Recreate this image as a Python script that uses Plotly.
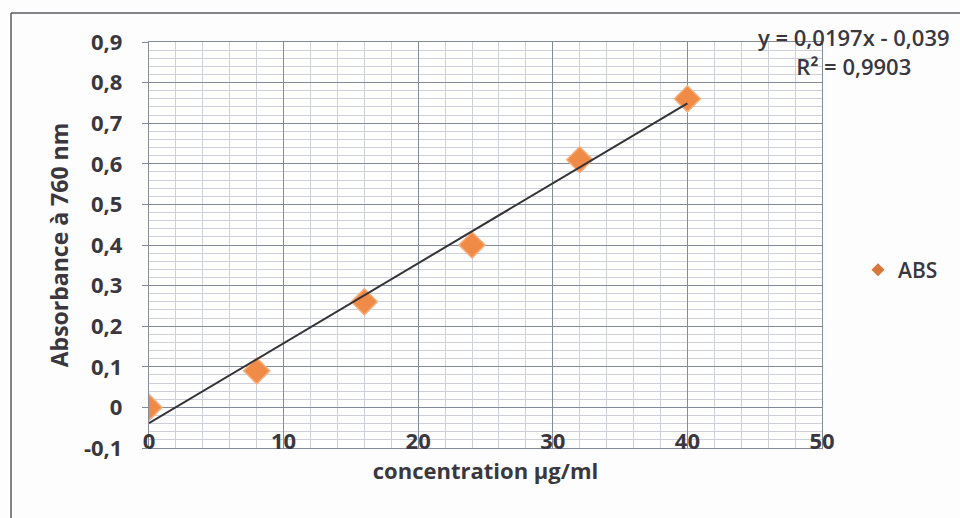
import plotly.graph_objects as go

# Calibration data: absorbance at 760 nm vs. concentration
concentration = [0, 8, 16, 24, 32, 40]
absorbance = [0.0, 0.09, 0.26, 0.40, 0.61, 0.76]

# Linear trendline (least squares) and its fit quality
slope = 0.0197
intercept = -0.039
r_squared = 0.9903
trend_x = [0, 40]

x_tickvals = [0, 10, 20, 30, 40, 50]
x_ticktext = ["0", "10", "20", "30", "40", "50"]
y_tickvals = [-0.1, 0, 0.1, 0.2, 0.3, 0.4, 0.5, 0.6, 0.7, 0.8, 0.9]
y_ticktext = ["-0,1", "0", "0,1", "0,2", "0,3", "0,4", "0,5", "0,6", "0,7", "0,8", "0,9"]

def fr(v):
    return f"{v}".replace(".", ",")

trend_y = [slope * x + intercept for x in trend_x]
eq_text = f"y = {fr(slope)}x - {fr(abs(intercept))}<br>R² = {fr(r_squared)}"

TEXT = "#3a373e"
MAJOR = "#858a99"
MINOR = "#cdd0da"
FONT = "Open Sans"

# plot area in pixels (for paper-coordinate shapes)
W, H = 960, 518
L, R, T, B = 149, 822, 42, 448

def px(xp):
    return (xp - L) / (R - L)

def py(yp):
    return (B - yp) / (B - T)

fig = go.Figure()

fig.add_trace(go.Scatter(
    x=concentration, y=absorbance, mode="markers", showlegend=False,
    marker=dict(symbol="diamond", size=20, color="#f08a47",
                line=dict(color="#f5ad7c", width=1.5)),
))
fig.add_trace(go.Scatter(
    x=trend_x, y=trend_y, mode="lines", showlegend=False,
    line=dict(color="#333338", width=2),
))
# legend entry for the series
fig.add_trace(go.Scatter(
    x=[None], y=[None], mode="markers", name="ABS",
    marker=dict(symbol="diamond", size=10, color="#d8773a"),
))

axis_common = dict(
    showgrid=True, gridcolor=MAJOR, gridwidth=1.3,
    showline=True, linecolor=MAJOR, linewidth=1.3, mirror=True,
    zeroline=False,
    tickfont=dict(family=FONT, size=22, color=TEXT, weight="bold"),
)

fig.update_xaxes(
    range=[0, 50], tickvals=x_tickvals, ticktext=x_ticktext,
    minor=dict(dtick=2, showgrid=True, gridcolor=MINOR, gridwidth=1),
    ticks="", ticklabelstandoff=-27,
    title=dict(text="concentration µg/ml", standoff=10,
               font=dict(family=FONT, size=22, color=TEXT, weight="bold")),
    **axis_common,
)
fig.update_yaxes(
    range=[-0.1, 0.9], tickvals=y_tickvals, ticktext=y_ticktext,
    minor=dict(dtick=0.02, tick0=0, showgrid=True, gridcolor=MINOR, gridwidth=1),
    ticks="outside", ticklen=6, tickcolor=MAJOR, ticklabelstandoff=15,
    title=dict(text="Absorbance à 760 nm", standoff=8,
               font=dict(family=FONT, size=23, color=TEXT, weight="bold")),
    **axis_common,
)

fig.add_annotation(
    xref="paper", yref="paper", x=px(854), y=py(52), text=eq_text,
    showarrow=False, align="center", xanchor="center", yanchor="middle",
    font=dict(family=FONT, size=22, color=TEXT, weight=600),
)

# outer chart frame (top and left edges visible)
fig.add_shape(type="line", xref="paper", yref="paper",
              x0=px(11), x1=px(962), y0=py(13), y1=py(13),
              line=dict(color="#5a5a60", width=1.5))
fig.add_shape(type="line", xref="paper", yref="paper",
              x0=px(11), x1=px(11), y0=py(13), y1=py(520),
              line=dict(color="#5a5a60", width=1.5))

fig.update_layout(
    width=W, height=H,
    margin=dict(l=L, r=W - R, t=T, b=H - B),
    paper_bgcolor="#fdfdfd", plot_bgcolor="#ffffff",
    legend=dict(x=px(858), y=py(270), xanchor="left", yanchor="middle",
                bgcolor="rgba(0,0,0,0)",
                font=dict(family=FONT, size=21, color=TEXT, weight=600)),
)

fig.write_html("out.html")
